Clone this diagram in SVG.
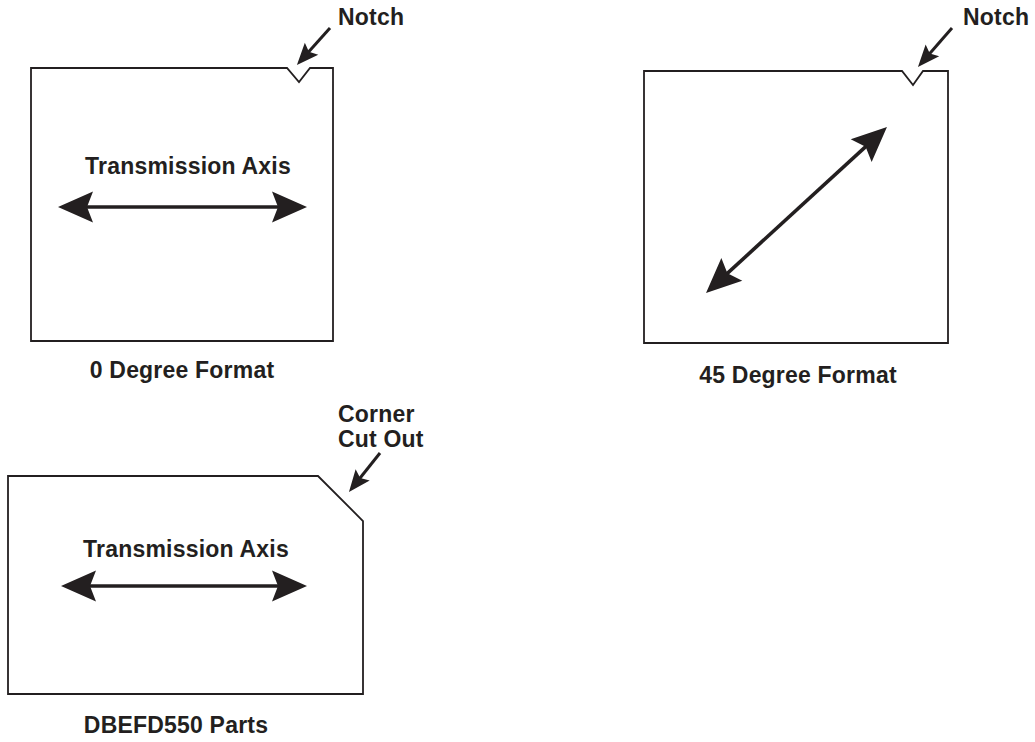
<svg xmlns="http://www.w3.org/2000/svg" width="1035" height="742" viewBox="0 0 1035 742">
<defs>
<style>
.box{fill:none;stroke:#231f20;stroke-width:1.8;stroke-linejoin:miter}
.ax{fill:none;stroke:#231f20;stroke-width:3.6}
.ptr{fill:none;stroke:#231f20;stroke-width:3}
.t{font-family:"Liberation Sans",Arial,sans-serif;font-weight:bold;font-size:23px;letter-spacing:0.2px;fill:#231f20}
</style>
<marker id="big" markerUnits="userSpaceOnUse" viewBox="-40 -20 45 40" refX="-10" refY="0" markerWidth="45" markerHeight="40" orient="auto-start-reverse">
<path d="M0,0 L-35,-15.5 L-29,0 L-35,15.5 Z" fill="#231f20"/>
</marker>
<marker id="small" markerUnits="userSpaceOnUse" viewBox="-25 -12 30 24" refX="-6" refY="0" markerWidth="30" markerHeight="24" orient="auto">
<path d="M0,0 L-22,-9 L-18,0 L-22,9 Z" fill="#231f20"/>
</marker>
</defs>
<rect width="1035" height="742" fill="#fff"/>
<g id="node-0deg">
<path class="box" d="M31,68 H287 L299,82 L310,68 H333 V341 H31 Z"/>
<text class="t" x="188" y="174" text-anchor="middle">Transmission Axis</text>
<text class="t" x="182" y="378" text-anchor="middle">0 Degree Format</text>
<text class="t" x="338" y="25">Notch</text>
</g>
<g id="node-45deg">
<path class="box" d="M644,71 H902 L913,85 L923,71 H948 V343 H644 Z"/>
<text class="t" x="798" y="383" text-anchor="middle">45 Degree Format</text>
<text class="t" x="963" y="25">Notch</text>
</g>
<g id="node-dbefd">
<path class="box" d="M8,476 H318 L363,521 V694 H8 Z"/>
<text class="t" x="186" y="557" text-anchor="middle">Transmission Axis</text>
<text class="t" x="176" y="733" text-anchor="middle">DBEFD550 Parts</text>
<text class="t" x="338" y="422">Corner</text>
<text class="t" x="338" y="447">Cut Out</text>
</g>
<g id="connectors">
<line class="ax" x1="68" y1="207" x2="297" y2="207" marker-start="url(#big)" marker-end="url(#big)"/>
<line class="ax" x1="713.4" y1="286.2" x2="879.6" y2="133.8" marker-start="url(#big)" marker-end="url(#big)"/>
<line class="ax" x1="71" y1="586" x2="297" y2="586" marker-start="url(#big)" marker-end="url(#big)"/>
<line class="ptr" x1="330" y1="28" x2="300.9" y2="60.6" marker-end="url(#small)"/>
<line class="ptr" x1="952" y1="28" x2="921.9" y2="62.5" marker-end="url(#small)"/>
<line class="ptr" x1="380" y1="453" x2="352.7" y2="487.3" marker-end="url(#small)"/>
</g>
</svg>
